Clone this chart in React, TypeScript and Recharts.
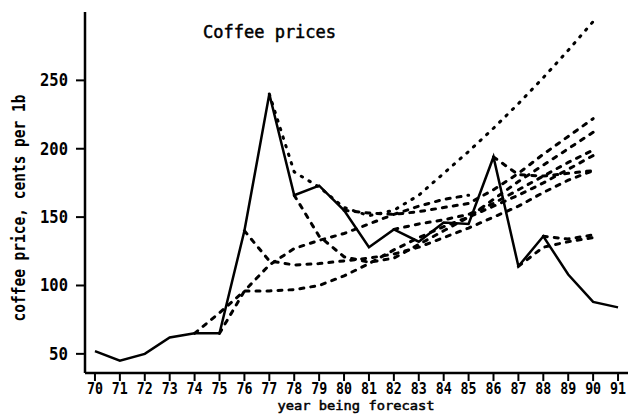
import React from "react";
import { LineChart, Line, XAxis, YAxis } from "recharts";

const years = [70, 71, 72, 73, 74, 75, 76, 77, 78, 79, 80, 81, 82, 83, 84, 85, 86, 87, 88, 89, 90, 91];
const actualPrices = [52, 45, 50, 62, 65, 65, 140, 240, 166, 173, 155, 128, 141, 132, 146, 145, 194, 114, 136, 108, 88, 84];
const yTicks = [50, 100, 150, 200, 250];

// forecasts: start year + values for consecutive years
const f74Start = 74;
const f74 = [65, 80, 96, 96, 97, 100, 107, 116, 126, 135, 143, 150, 158, 166, 175, 185, 195];
const f75Start = 75;
const f75 = [65, 96, 115, 127, 133, 138, 145, 152, 158, 163, 166];
const f76Start = 76;
const f76 = [140, 118, 115, 116, 118, 120, 123, 128, 135, 142, 150, 158, 168, 177, 184];
const f77Start = 77;
const f77 = [240, 183, 172, 157, 151, 155, 166, 182, 198, 215, 233, 252, 272, 293];
const f78Start = 78;
const f78 = [166, 136, 121, 117, 120, 130, 140, 150, 163, 176, 188, 200, 212];
const f80Start = 80;
const f80 = [155, 153, 152, 154, 157, 160, 170, 182, 196, 209, 222];
const f82Start = 82;
const f82 = [141, 145, 148, 152, 160, 170, 180, 190, 199];
const f86Start = 86;
const f86 = [194, 181, 180, 182, 184];
const f87Start = 87;
const f87 = [114, 128, 132, 135];
const f88Start = 88;
const f88 = [136, 134, 137];

const toPts = (start: number, vals: number[]) => vals.map((v, i) => ({ year: start + i, v }));
const actualData = years.map((y, i) => ({ year: y, v: actualPrices[i] }));

const dashed = [
  toPts(f74Start, f74),
  toPts(f75Start, f75),
  toPts(f76Start, f76),
  toPts(f78Start, f78),
  toPts(f80Start, f80),
  toPts(f82Start, f82),
  toPts(f86Start, f86),
  toPts(f87Start, f87),
  toPts(f88Start, f88),
];
const dotted = toPts(f77Start, f77);

const MONO = "'DejaVu Sans Mono', monospace";

const XTick = (props: any) => {
  const { x, y, payload } = props;
  return (
    <text
      x={x}
      y={y + 11}
      textAnchor="middle"
      fontFamily={MONO}
      fontSize={15}
      fontWeight="bold"
      fill="#000"
      textLength={16}
      lengthAdjust="spacingAndGlyphs"
    >
      {String(payload.value)}
    </text>
  );
};

const YTick = (props: any) => {
  const { x, y, payload } = props;
  const s = String(payload.value);
  return (
    <text
      x={x}
      y={y + 6}
      textAnchor="end"
      fontFamily={MONO}
      fontSize={18}
      fontWeight="bold"
      fill="#000"
      textLength={s.length === 3 ? 28 : 19}
      lengthAdjust="spacingAndGlyphs"
    >
      {s}
    </text>
  );
};

export default function App() {
  return (
    <div style={{ position: "absolute", left: 0, top: 0, width: 628, height: 414, background: "#fff" }}>
      <LineChart width={628} height={414} margin={{ top: 12, right: 0, bottom: 0, left: 0 }}>
        <XAxis
          type="number"
          dataKey="year"
          domain={[69.6, 91.4]}
          ticks={years}
          allowDataOverflow
          height={41}
          tickSize={8}
          tickMargin={2}
          interval={0}
          stroke="#000"
          axisLine={{ stroke: "#000", strokeWidth: 2.5 }}
          tickLine={{ stroke: "#000", strokeWidth: 2 }}
          tick={<XTick />}
          label={{
            content: () => (
              <text
                x={356}
                y={410}
                textAnchor="middle"
                fontFamily={MONO}
                fontSize={13}
                fill="#000"
                stroke="#000"
                strokeWidth={0.5}
                textLength={157}
                lengthAdjust="spacingAndGlyphs"
              >
                year being forecast
              </text>
            ),
          }}
        />
        <YAxis
          type="number"
          domain={[36, 300]}
          ticks={yTicks}
          allowDataOverflow
          width={85}
          tickSize={9}
          tickMargin={8}
          interval={0}
          stroke="#000"
          axisLine={{ stroke: "#000", strokeWidth: 2.5 }}
          tickLine={{ stroke: "#000", strokeWidth: 2 }}
          tick={<YTick />}
          label={{
            content: () => (
              <text
                x={19}
                y={208}
                transform="rotate(-90, 19, 208)"
                textAnchor="middle"
                dominantBaseline="central"
                fontFamily={MONO}
                fontSize={17}
                fontWeight="bold"
                fill="#000"
                textLength={227}
                lengthAdjust="spacingAndGlyphs"
              >
                coffee price, cents per 1b
              </text>
            ),
          }}
        />
        {dashed.map((d, i) => (
          <Line
            key={"f" + i}
            data={d}
            dataKey="v"
            type="linear"
            stroke="#000"
            strokeWidth={3}
            strokeDasharray="4 7"
            strokeLinecap="round"
            dot={false}
            activeDot={false}
            isAnimationActive={false}
          />
        ))}
        <Line
          data={dotted}
          dataKey="v"
          type="linear"
          stroke="#000"
          strokeWidth={3}
          strokeDasharray="1.5 7.5"
          strokeLinecap="round"
          dot={false}
          activeDot={false}
          isAnimationActive={false}
        />
        <Line
          data={actualData}
          dataKey="v"
          type="linear"
          stroke="#000"
          strokeWidth={2.5}
          dot={false}
          activeDot={false}
          isAnimationActive={false}
        />
      </LineChart>
      <div
        style={{
          position: "absolute",
          left: 203,
          top: 22,
          fontFamily: MONO,
          fontSize: 17,
          lineHeight: "20px",
          color: "#000",
          whiteSpace: "nowrap",
          WebkitTextStroke: "0.5px #000",
        }}
      >
        Coffee prices
      </div>
    </div>
  );
}
